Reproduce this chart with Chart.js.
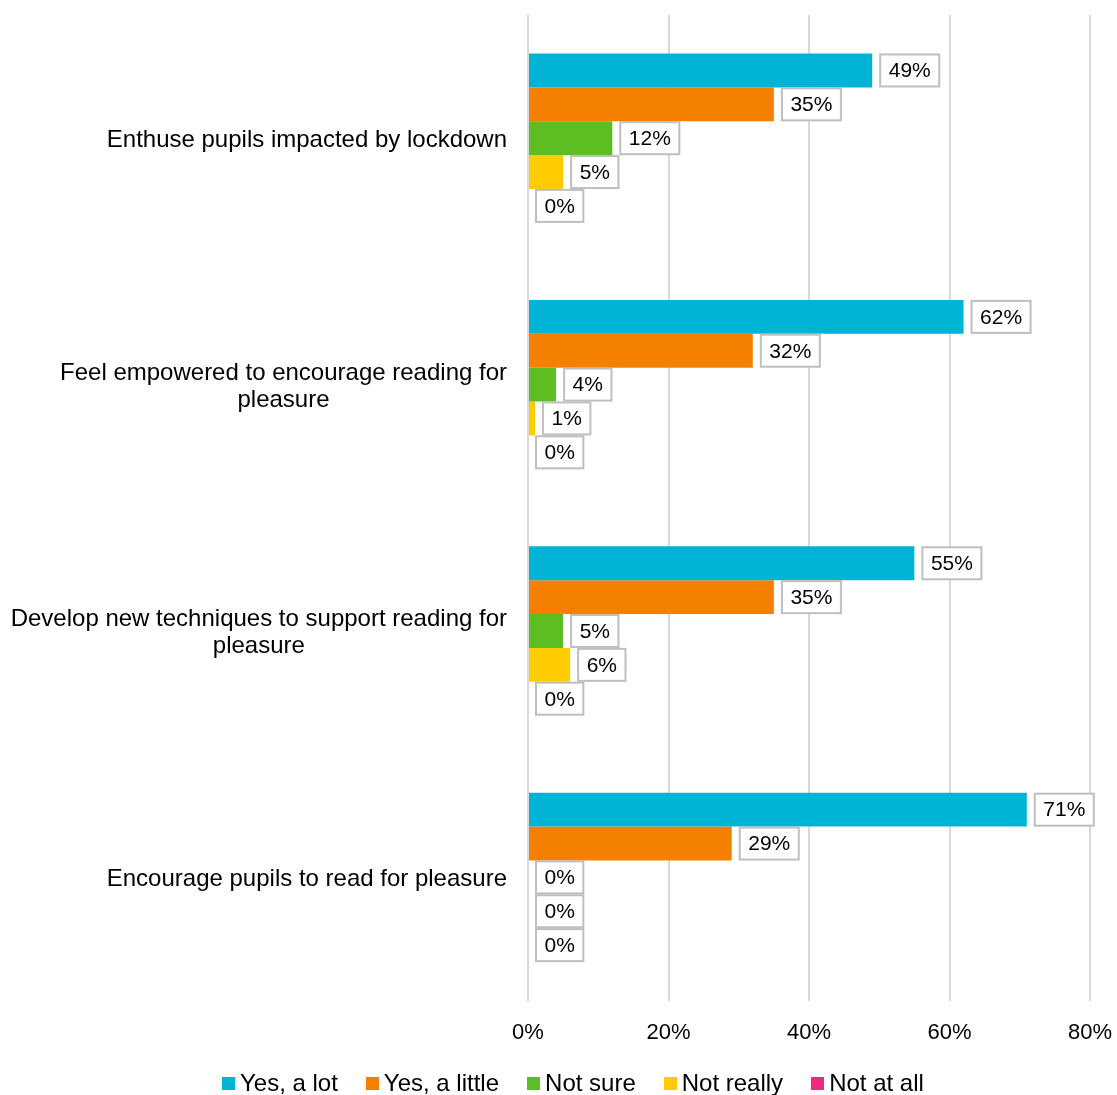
<!DOCTYPE html>
<html lang="en">
<head>
    <meta charset="UTF-8">
    <title>Reading for pleasure</title>
    <script src="https://cdn.jsdelivr.net/npm/chart.js"></script>
    <style>
        html, body { margin: 0; padding: 0; background: #fff; }
        #wrap { position: relative; width: 1117px; height: 1095px; }
        #legend {
            position: absolute; left: 222px; top: 1068px;
            display: flex; gap: 28px; align-items: center;
            font: 24px "Liberation Sans", Arial, sans-serif; color: #000;
            line-height: 30px; white-space: nowrap;
        }
        #legend span.item { display: flex; align-items: center; }
        #legend i { display: inline-block; width: 13px; height: 13px; margin-right: 5px; }
    </style>
</head>
<body>
    <div id="wrap">
        <canvas id="chart"></canvas>
        <div id="legend"></div>
    </div>

    <script>
        // Categories (each entry is a list of lines) and series
        const categories = [
            ['Enthuse pupils impacted by lockdown'],
            ['Feel empowered to encourage reading for', 'pleasure'],
            ['Develop new techniques to support reading for', 'pleasure'],
            ['Encourage pupils to read for pleasure']
        ];
        const seriesNames = ['Yes, a lot', 'Yes, a little', 'Not sure', 'Not really', 'Not at all'];
        const yesALot    = [49, 62, 55, 71];
        const yesALittle = [35, 32, 35, 29];
        const notSure    = [12, 4, 5, 0];
        const notReally  = [5, 1, 6, 0];
        const notAtAll   = [0, 0, 0, 0];
        const xTicks = [0, 20, 40, 60, 80];

        const colors = ['#00B4D6', '#F58000', '#5DBE24', '#FFCC00', '#F0287F'];
        const FONT = '"Liberation Sans", Arial, sans-serif';

        const seriesValues = [yesALot, yesALittle, notSure, notReally, notAtAll];
        const datasets = seriesNames.map((name, i) => ({
            label: name,
            data: seriesValues[i],
            backgroundColor: colors[i],
            borderWidth: 0,
            barPercentage: 1,
            categoryPercentage: 0.687
        }));

        // Boxed percentage labels at the end of each bar
        const valueBoxes = {
            id: 'valueBoxes',
            afterDatasetsDraw(chart) {
                const c = chart.ctx;
                c.save();
                c.font = '21px ' + FONT;
                c.textBaseline = 'middle';
                c.textAlign = 'left';
                chart.data.datasets.forEach((ds, di) => {
                    const meta = chart.getDatasetMeta(di);
                    meta.data.forEach((bar, i) => {
                        const txt = ds.data[i] + '%';
                        const w = c.measureText(txt).width + 17;
                        const h = 32;
                        const left = bar.x + 8;
                        const top = bar.y - h / 2;
                        c.fillStyle = '#fff';
                        c.fillRect(left, top, w, h);
                        c.strokeStyle = '#BFBFBF';
                        c.lineWidth = 2;
                        c.strokeRect(left, top, w, h);
                        c.fillStyle = '#000';
                        c.fillText(txt, left + 8.5, bar.y + 1);
                    });
                });
                c.restore();
            }
        };

        // Category names: block right-aligned to the axis, lines centred within block
        const categoryLabels = {
            id: 'categoryLabels',
            afterDraw(chart) {
                const c = chart.ctx;
                const yScale = chart.scales.y;
                const right = 507;
                const lineH = 27;
                c.save();
                c.font = '24px ' + FONT;
                c.fillStyle = '#000';
                c.textAlign = 'center';
                c.textBaseline = 'middle';
                categories.forEach((lines, i) => {
                    const cy = yScale.getPixelForValue(i) + 2;
                    const blockW = Math.max(...lines.map(l => c.measureText(l).width));
                    const cx = right - blockW / 2;
                    const y0 = cy - (lines.length - 1) * lineH / 2;
                    lines.forEach((l, j) => c.fillText(l, cx, y0 + j * lineH));
                });
                c.restore();
            }
        };

        new Chart(document.getElementById('chart'), {
            type: 'bar',
            data: { labels: categories, datasets },
            options: {
                indexAxis: 'y',
                responsive: true,
                maintainAspectRatio: false,
                animation: false,
                layout: { padding: { top: 15, right: 27, left: 0, bottom: 30 } },
                scales: {
                    x: {
                        min: xTicks[0],
                        max: xTicks[xTicks.length - 1],
                        afterBuildTicks(scale) {
                            scale.ticks = xTicks.map(v => ({ value: v }));
                        },
                        afterFit(scale) {
                            // let the end labels hang past the plot area
                            scale.paddingLeft = 0;
                            scale.paddingRight = 0;
                        },
                        ticks: {
                            callback: v => v + '%',
                            font: { family: FONT, size: 22 },
                            color: '#000',
                            padding: 19,
                            maxRotation: 0
                        },
                        grid: { color: '#D9D9D9', lineWidth: 2, drawTicks: false },
                        border: { display: false }
                    },
                    y: {
                        ticks: { display: false },
                        grid: { display: false },
                        border: { display: false },
                        afterFit(scale) { scale.width = 528; }
                    }
                },
                plugins: {
                    legend: { display: false },
                    tooltip: { enabled: false }
                }
            },
            plugins: [valueBoxes, categoryLabels]
        });

        // Legend row
        const legendEl = document.getElementById('legend');
        seriesNames.forEach((name, i) => {
            const item = document.createElement('span');
            item.className = 'item';
            item.innerHTML = '<i style="background:' + colors[i] + '"></i>' + name;
            legendEl.appendChild(item);
        });
    </script>
</body>
</html>
